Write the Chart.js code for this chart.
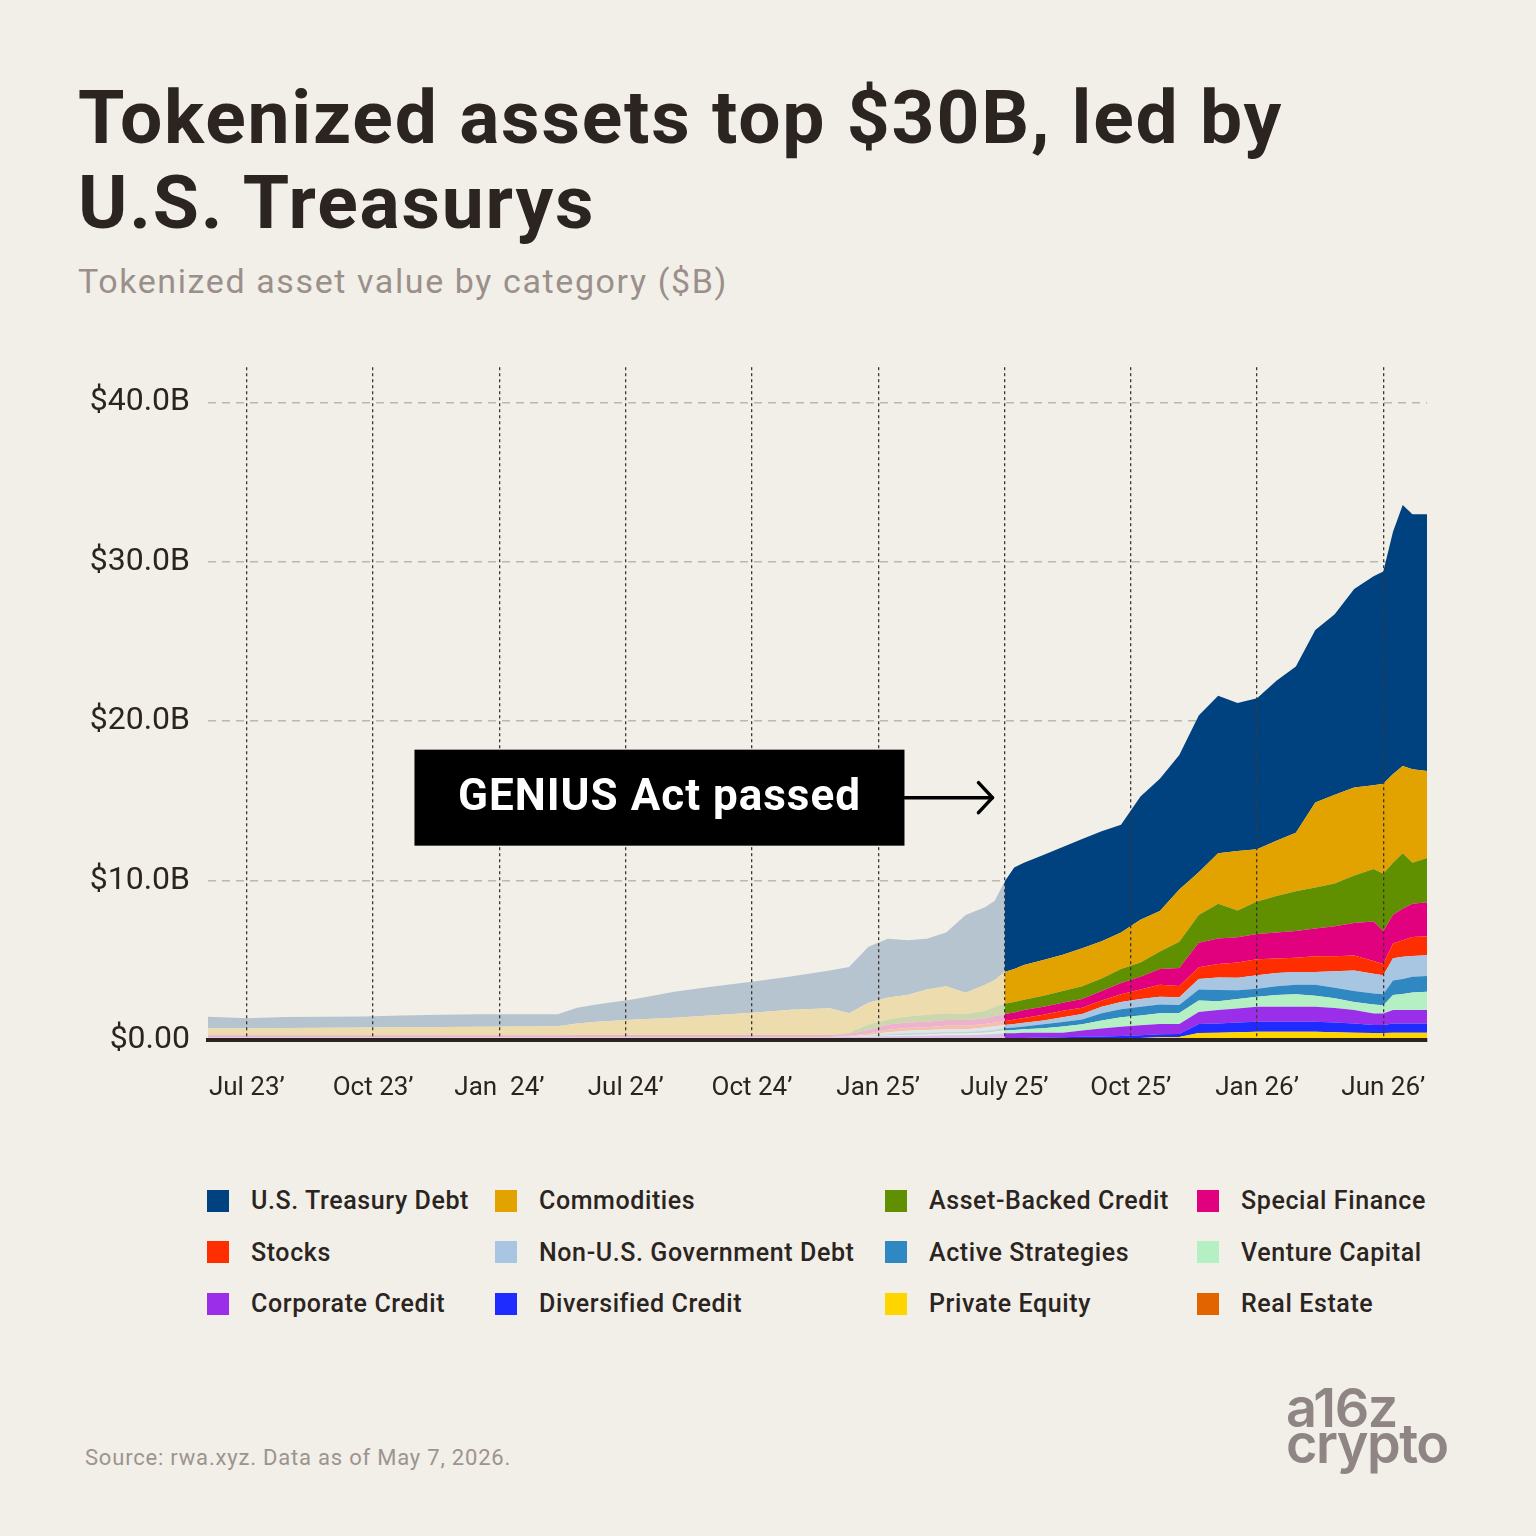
<!DOCTYPE html>
<html>
<head>
<meta charset="utf-8">
<title>Tokenized assets top $30B</title>
<script src="https://cdn.jsdelivr.net/npm/chart.js@4.4.1/dist/chart.umd.min.js"></script>
<style>
    html, body { margin: 0; padding: 0; background: #f1efe8; }
    body { width: 1536px; height: 1536px; position: relative; overflow: hidden; font-family: Roboto, "Liberation Sans", sans-serif; color: #2b2421; }
    #title { position: absolute; left: 78px; top: 75px; font-size: 75px; font-weight: 700; line-height: 85px; letter-spacing: 1.8px; white-space: nowrap; }
    #subtitle { position: absolute; left: 78px; top: 261px; font-size: 34px; line-height: 40px; letter-spacing: 1.6px; color: #9b8f8b; white-space: nowrap; }
    #chartBox { position: absolute; left: 0; top: 330px; width: 1536px; height: 800px; }
    #legend { position: absolute; left: 207px; top: 1175px; display: grid; grid-template-columns: 288px 390px 312px 280px; grid-auto-rows: 51.5px; }
    .legend-item { display: flex; align-items: center; font-size: 25px; font-weight: 500; letter-spacing: 0.6px; white-space: nowrap; }
    .legend-color { width: 22px; height: 22px; margin-right: 22px; flex: none; }
    #source { position: absolute; left: 85px; top: 1444px; font-size: 22px; line-height: 28px; letter-spacing: 0.8px; color: #9d938f; }
    #logo { position: absolute; left: 1286px; top: 1390px; font-family: Inter, Roboto, sans-serif; font-size: 54px; font-weight: 600; line-height: 36px; letter-spacing: -1.5px; color: #8f8584; }
</style>
</head>
<body>
<div id="title">Tokenized assets top $30B, led by<br>U.S. Treasurys</div>
<div id="subtitle">Tokenized asset value by category ($B)</div>
<div id="chartBox"><canvas id="rwaChart"></canvas></div>
<div id="legend"></div>
<div id="source">Source: rwa.xyz. Data as of May 7, 2026.</div>
<div id="logo">a16z<br>crypto</div>

<script>
// ========== data ($B, stacked) ==========

// x positions in weeks from the first data point
const weeks = [0, 4, 8, 12, 16, 20, 24, 28, 32, 36, 38, 40, 44, 48, 52, 56, 60, 64,
    66, 68, 70, 72, 74, 76, 78, 80, 81,
    82, 83, 84, 86, 88, 90, 92, 94, 96, 98, 100, 102, 104, 106, 108, 110, 112, 114, 116, 118, 120,
    121, 122, 123, 124, 125.5];

const tickWeeks = [4, 17, 30, 43, 56, 69, 82, 95, 108, 121];
const tickLabels = ['Jul 23’', 'Oct 23’', 'Jan  24’', 'Jul 24’', 'Oct 24’', 'Jan 25’', 'July 25’', 'Oct 25’', 'Jan 26’', 'Jun 26’'];
const yTicks = [0, 10, 20, 30, 40];
const geniusWeek = 82;

const treasuryDebt = [0.72, 0.62, 0.69, 0.69, 0.69, 0.73, 0.77, 0.78, 0.77, 0.74, 0.99, 1.09, 1.29, 1.62, 1.79, 1.94, 2.08, 2.37,
    2.90, 3.52, 3.68, 3.43, 3.18, 3.37, 4.87, 4.86, 4.96,
    5.66, 6.36, 6.40, 6.60, 6.76, 6.85, 6.90, 6.76, 7.74, 8.29, 8.44, 9.83, 9.88, 9.28, 9.48, 10.03, 10.43, 10.82, 11.32, 12.46, 13.11,
    13.30, 15.20, 16.38, 15.99, 16.09];
const commodities = [0.44, 0.44, 0.45, 0.47, 0.49, 0.50, 0.51, 0.53, 0.54, 0.57, 0.72, 0.82, 0.96, 1.08, 1.24, 1.39, 1.58, 1.67,
    1.23, 1.35, 1.39, 1.34, 1.59, 1.69, 1.34, 1.64, 1.69,
    1.98, 2.08, 2.19, 2.24, 2.28, 2.38, 2.34, 2.28, 2.68, 2.54, 3.28, 2.68, 3.18, 3.73, 3.28, 3.47, 3.67, 5.32, 5.56, 5.51, 5.26,
    5.66, 5.56, 5.46, 5.86, 5.46];
const assetBackedCredit = [0, 0, 0, 0, 0, 0, 0, 0, 0, 0, 0.01, 0.01, 0.01, 0.01, 0.01, 0.01, 0.01, 0.01,
    0.07, 0.36, 0.30, 0.38, 0.43, 0.43, 0.38, 0.48, 0.58,
    0.65, 0.65, 0.64, 0.69, 0.74, 0.80, 0.79, 0.89, 0.90, 1.09, 1.64, 1.74, 2.18, 1.68, 2.03, 2.29, 2.49, 2.58, 2.68, 2.98, 3.28,
    3.58, 3.27, 3.48, 2.58, 2.78];
const specialFinance = [0.11, 0.11, 0.11, 0.11, 0.11, 0.11, 0.11, 0.11, 0.11, 0.11, 0.12, 0.12, 0.12, 0.12, 0.12, 0.12, 0.12, 0.12,
    0.12, 0.22, 0.33, 0.35, 0.35, 0.35, 0.35, 0.35, 0.40,
    0.45, 0.45, 0.50, 0.50, 0.50, 0.54, 0.60, 0.70, 0.79, 0.99, 1.14, 1.54, 1.59, 1.59, 1.59, 1.63, 1.68, 1.73, 1.88, 2.04, 2.48,
    2.08, 1.79, 1.98, 2.08, 2.13];
const stocks = [0.01, 0.01, 0.01, 0.01, 0.01, 0.01, 0.01, 0.01, 0.01, 0.01, 0.01, 0.01, 0.01, 0.01, 0.01, 0.01, 0.01, 0.01,
    0.02, 0.08, 0.17, 0.17, 0.18, 0.22, 0.22, 0.22, 0.24,
    0.24, 0.28, 0.30, 0.35, 0.40, 0.40, 0.39, 0.49, 0.60, 0.75, 0.70, 0.74, 0.85, 0.95, 1.00, 0.90, 0.90, 1.00, 0.95, 0.94, 0.80,
    0.70, 0.94, 1.04, 1.19, 1.20];
const nonUsGovDebt = [0.01, 0.01, 0.01, 0.01, 0.01, 0.01, 0.01, 0.01, 0.01, 0.01, 0.01, 0.01, 0.01, 0.01, 0.01, 0.01, 0.01, 0.01,
    0.02, 0.06, 0.12, 0.16, 0.16, 0.18, 0.18, 0.20, 0.20,
    0.20, 0.21, 0.24, 0.24, 0.30, 0.35, 0.40, 0.45, 0.49, 0.49, 0.49, 0.65, 0.79, 0.79, 0.84, 0.84, 0.79, 0.79, 1.04, 1.29, 1.24,
    1.19, 1.39, 1.39, 1.30, 1.29];
const activeStrategies = [0.01, 0.01, 0.01, 0.01, 0.01, 0.01, 0.01, 0.01, 0.01, 0.01, 0.01, 0.01, 0.01, 0.01, 0.01, 0.01, 0.01, 0.01,
    0.01, 0.03, 0.08, 0.10, 0.11, 0.10, 0.10, 0.12, 0.14,
    0.15, 0.17, 0.17, 0.25, 0.29, 0.29, 0.45, 0.50, 0.55, 0.55, 0.50, 0.70, 0.70, 0.55, 0.50, 0.55, 0.60, 0.70, 0.65, 0.69, 0.69,
    0.69, 0.90, 0.95, 0.99, 0.99];
const ventureCapital = [0.01, 0.01, 0.01, 0.01, 0.01, 0.01, 0.01, 0.01, 0.01, 0.01, 0.01, 0.01, 0.01, 0.01, 0.01, 0.01, 0.01, 0.01,
    0.01, 0.02, 0.05, 0.07, 0.08, 0.10, 0.10, 0.12, 0.14,
    0.17, 0.19, 0.22, 0.28, 0.38, 0.39, 0.51, 0.60, 0.61, 0.68, 0.68, 0.72, 0.55, 0.59, 0.64, 0.74, 0.79, 0.69, 0.62, 0.50, 0.56,
    0.51, 0.95, 1.00, 1.10, 1.15];
const corporateCredit = [0.06, 0.06, 0.06, 0.06, 0.06, 0.06, 0.06, 0.06, 0.06, 0.06, 0.06, 0.06, 0.06, 0.06, 0.06, 0.06, 0.06, 0.06,
    0.11, 0.12, 0.14, 0.15, 0.17, 0.20, 0.20, 0.24, 0.28,
    0.31, 0.31, 0.32, 0.31, 0.29, 0.40, 0.50, 0.58, 0.62, 0.64, 0.63, 0.75, 0.84, 0.88, 0.94, 0.94, 0.94, 0.94, 0.90, 0.84, 0.73,
    0.73, 0.84, 0.84, 0.84, 0.84];
const diversifiedCredit = [0.02, 0.02, 0.02, 0.02, 0.02, 0.02, 0.02, 0.02, 0.02, 0.02, 0.02, 0.02, 0.02, 0.02, 0.02, 0.02, 0.02, 0.02,
    0.02, 0.02, 0.02, 0.03, 0.03, 0.04, 0.04, 0.05, 0.06,
    0.08, 0.08, 0.08, 0.10, 0.11, 0.13, 0.14, 0.16, 0.18, 0.19, 0.19, 0.56, 0.58, 0.61, 0.62, 0.62, 0.62, 0.62, 0.61, 0.58, 0.50,
    0.50, 0.58, 0.58, 0.58, 0.58];
const privateEquity = [0.05, 0.05, 0.05, 0.05, 0.05, 0.05, 0.05, 0.05, 0.05, 0.05, 0.05, 0.05, 0.05, 0.05, 0.05, 0.05, 0.05, 0.05,
    0.05, 0.05, 0.05, 0.05, 0.05, 0.04, 0.04, 0.04, 0.03,
    0.02, 0.03, 0.04, 0.04, 0.05, 0.06, 0.07, 0.08, 0.11, 0.16, 0.18, 0.42, 0.44, 0.47, 0.50, 0.50, 0.50, 0.50, 0.47, 0.44, 0.42,
    0.42, 0.44, 0.44, 0.44, 0.44];
const realEstate = [0.02, 0.02, 0.02, 0.02, 0.02, 0.02, 0.02, 0.02, 0.02, 0.02, 0.02, 0.02, 0.02, 0.02, 0.02, 0.02, 0.02, 0.02,
    0.02, 0.02, 0.02, 0.02, 0.02, 0.02, 0.02, 0.01, 0.01,
    0.01, 0.01, 0.01, 0.01, 0.01, 0.01, 0.01, 0.01, 0.01, 0.01, 0.01, 0.02, 0.02, 0.02, 0.02, 0.02, 0.02, 0.02, 0.02, 0.02, 0.02,
    0.02, 0.02, 0.02, 0.02, 0.02];

// legend order (row by row), stack is drawn in reverse
const categories = ['U.S. Treasury Debt', 'Commodities', 'Asset-Backed Credit', 'Special Finance',
    'Stocks', 'Non-U.S. Government Debt', 'Active Strategies', 'Venture Capital',
    'Corporate Credit', 'Diversified Credit', 'Private Equity', 'Real Estate'];
const seriesValues = [treasuryDebt, commodities, assetBackedCredit, specialFinance,
    stocks, nonUsGovDebt, activeStrategies, ventureCapital,
    corporateCredit, diversifiedCredit, privateEquity, realEstate];
const categoryColors = ['#00427f', '#e2a300', '#608f00', '#e1007d',
    '#ff2e00', '#a8c5e2', '#2f88c1', '#b4f0c4',
    '#9b2ee9', '#1f2cff', '#ffd500', '#e16400'];

// ========== helpers ==========

const pageBg = [241, 239, 232];
const inkColor = '#2b2421';

// pale version of a colour for the period before the GENIUS Act
function fade(hex) {
    const n = parseInt(hex.slice(1), 16);
    const rgb = [n >> 16, (n >> 8) & 255, n & 255];
    return 'rgb(' + rgb.map((v, k) => Math.round(v * 0.25 + pageBg[k] * 0.75)).join(',') + ')';
}

const splitIndex = weeks.indexOf(geniusWeek);

// ========== legend ==========
const legendContainer = document.getElementById('legend');
categories.forEach((name, i) => {
    const item = document.createElement('div');
    item.className = 'legend-item';
    item.innerHTML = `<div class="legend-color" style="background:${categoryColors[i]}"></div><span>${name}</span>`;
    legendContainer.appendChild(item);
});

// ========== chart ==========
const stackOrder = categories.map((_, i) => i).reverse();

const datasets = stackOrder.map((i, k) => {
    const color = categoryColors[i];
    const pale = fade(color);
    return {
        label: categories[i],
        data: seriesValues[i].map((v, j) => ({ x: weeks[j], y: v })),
        backgroundColor: color,
        borderColor: color,
        borderWidth: 0,
        pointRadius: 0,
        tension: 0,
        fill: k === 0 ? 'origin' : '-1',
        segment: {
            backgroundColor: ctx => ctx.p0DataIndex < splitIndex ? pale : color
        }
    };
});

// black "GENIUS Act passed" box with the arrow pointing at July 25
const geniusNote = {
    id: 'geniusNote',
    afterDraw(chart) {
        const { ctx, scales: { x, y } } = chart;
        const tipX = x.getPixelForValue(geniusWeek) - 12;
        const midY = y.getPixelForValue(15.2);
        const boxRight = tipX - 88;
        const boxLeft = boxRight - 490;

        ctx.save();
        ctx.fillStyle = '#000';
        ctx.fillRect(boxLeft, midY - 48, 490, 96);
        ctx.fillStyle = '#fff';
        ctx.font = '700 44px Roboto';
        if ('letterSpacing' in ctx) ctx.letterSpacing = '1px';
        ctx.textAlign = 'center';
        ctx.textBaseline = 'middle';
        ctx.fillText('GENIUS Act passed', (boxLeft + boxRight) / 2, midY + 1);

        ctx.strokeStyle = '#000';
        ctx.lineWidth = 3.5;
        ctx.lineCap = 'round';
        ctx.lineJoin = 'round';
        ctx.beginPath();
        ctx.moveTo(boxRight, midY);
        ctx.lineTo(tipX, midY);
        ctx.stroke();
        ctx.beginPath();
        ctx.moveTo(tipX - 14, midY - 15);
        ctx.lineTo(tipX, midY);
        ctx.lineTo(tipX - 14, midY + 15);
        ctx.stroke();
        ctx.restore();
    }
};

Chart.defaults.font.family = 'Roboto';
Chart.defaults.color = inkColor;

new Chart(document.getElementById('rwaChart'), {
    type: 'line',
    data: { datasets: datasets },
    options: {
        responsive: true,
        maintainAspectRatio: false,
        animation: false,
        layout: { padding: { top: 35, right: 109, left: 0, bottom: 0 } },
        plugins: {
            legend: { display: false },
            tooltip: { enabled: false }
        },
        scales: {
            x: {
                type: 'linear',
                min: 0,
                max: 125.5,
                afterBuildTicks: axis => { axis.ticks = tickWeeks.map(v => ({ value: v })); },
                afterFit: scale => { scale.height = 90; },
                ticks: {
                    autoSkip: false,
                    maxRotation: 0,
                    padding: 33,
                    font: { size: 26 },
                    color: inkColor,
                    callback: (value, index) => tickLabels[index]
                },
                grid: { color: '#3d3633', lineWidth: 1.3, drawTicks: false, z: 1 },
                border: { display: true, color: '#2a2320', width: 4, dash: [3, 3], z: 1 }
            },
            y: {
                stacked: true,
                min: 0,
                max: 42.2,
                afterBuildTicks: axis => { axis.ticks = yTicks.map(v => ({ value: v })); },
                afterFit: scale => { scale.width = 208; },
                ticks: {
                    padding: 18,
                    font: { size: 32 },
                    color: inkColor,
                    callback: v => v === 0 ? '$0.00' : '$' + v.toFixed(1) + 'B'
                },
                grid: {
                    color: ctx => ctx.tick && ctx.tick.value === 0 ? 'rgba(0,0,0,0)' : '#bcb7af',
                    lineWidth: 1.5,
                    drawTicks: false
                },
                border: { display: false, dash: [8, 6] }
            }
        }
    },
    plugins: [geniusNote]
});
</script>
</body>
</html>
